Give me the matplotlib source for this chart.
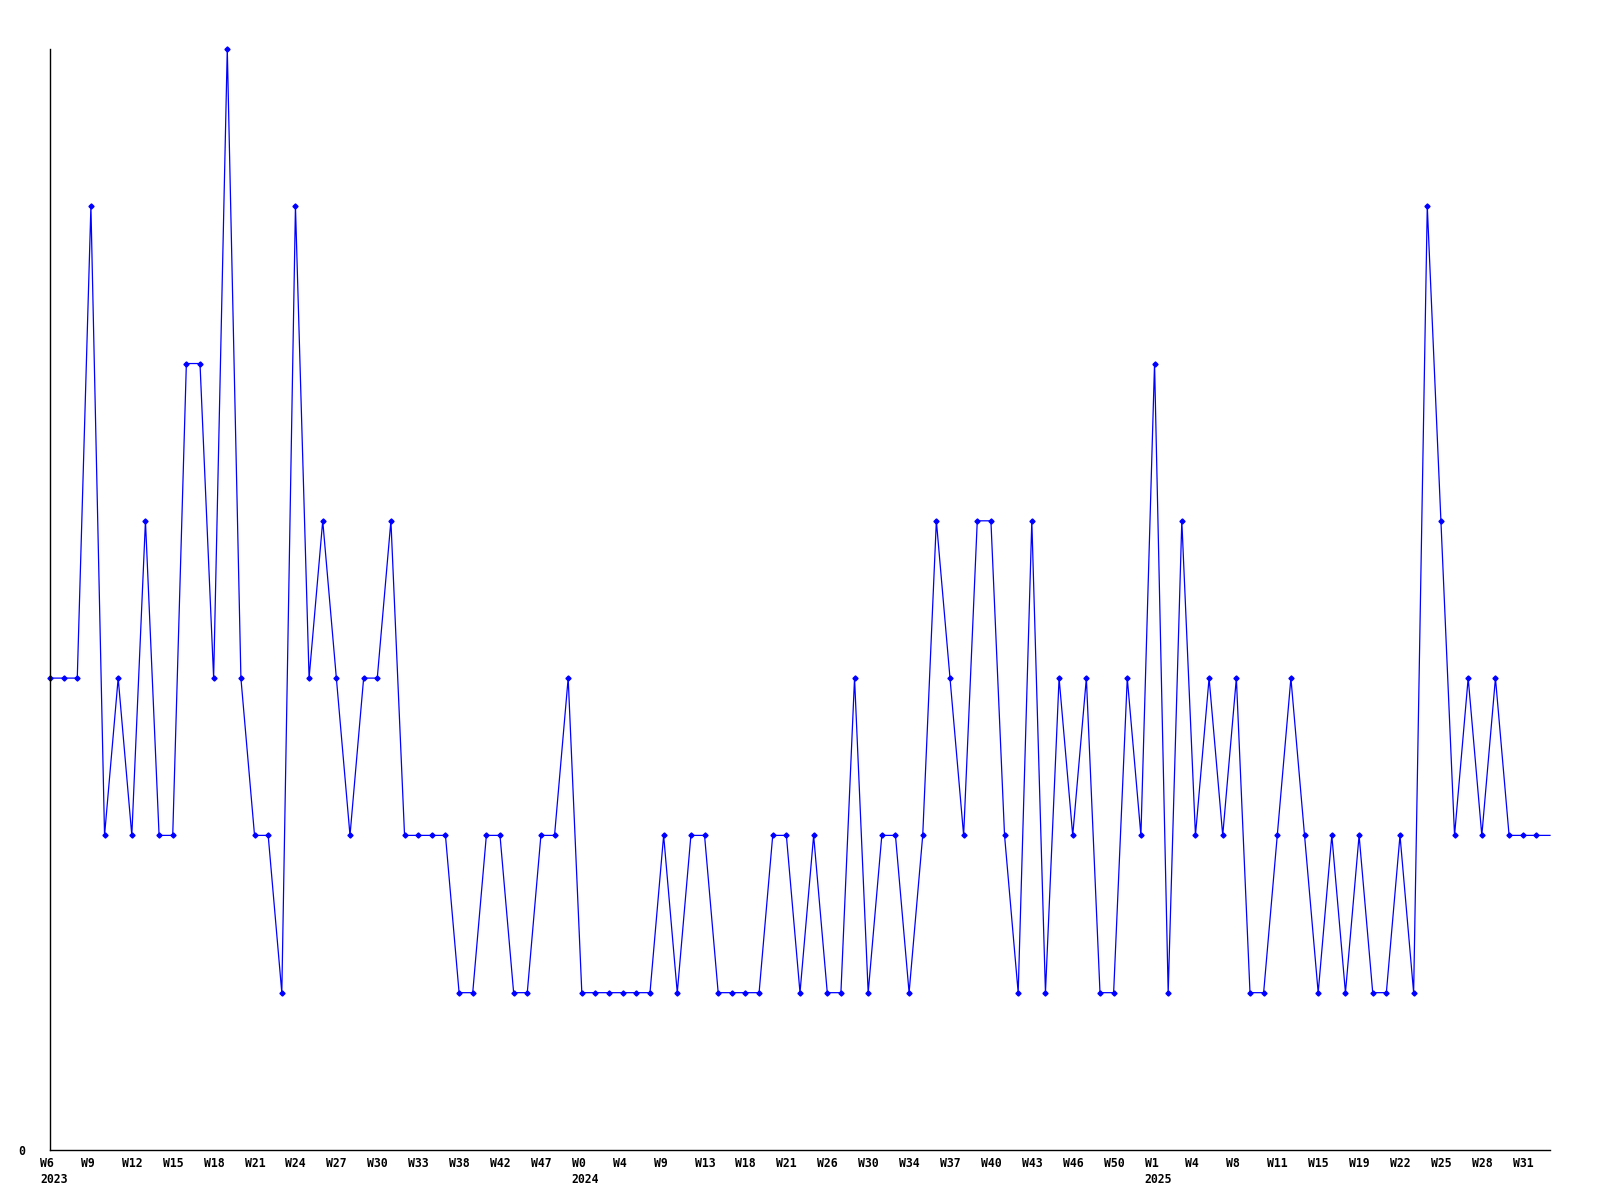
"""Weekly counts, W6 2023 .. W31 2025, as a plain line with point markers."""
import matplotlib
matplotlib.use("Agg")
import matplotlib.pyplot as plt
import matplotlib.transforms as mtrans

BLUE = "#0000ff"
INK = "#000000"

# one value per plotted week (weeks without data are skipped, so x is the index)
counts = [
    3, 3, 3, 6, 2, 3, 2, 4, 2, 2,
    5, 5, 3, 7, 3, 2, 2, 1, 6, 3,
    4, 3, 2, 3, 3, 4, 2, 2, 2, 2,
    1, 1, 2, 2, 1, 1, 2, 2, 3, 1,
    1, 1, 1, 1, 1, 2, 1, 2, 2, 1,
    1, 1, 1, 2, 2, 1, 2, 1, 1, 3,
    1, 2, 2, 1, 2, 4, 3, 2, 4, 4,
    2, 1, 4, 1, 3, 2, 3, 1, 1, 3,
    2, 5, 1, 4, 2, 3, 2, 3, 1, 1,
    2, 3, 2, 1, 2, 1, 2, 1, 1, 2,
    1, 6, 4, 2, 3, 2, 3, 2, 2, 2,
    2,
]

# labels every third point
week_labels = [
    "W6\n2023", "W9", "W12", "W15", "W18", "W21", "W24", "W27", "W30",
    "W33", "W38", "W42", "W47", "W0\n2024", "W4", "W9", "W13", "W18",
    "W21", "W26", "W30", "W34", "W37", "W40", "W43", "W46", "W50",
    "W1\n2025", "W4", "W8", "W11", "W15", "W19", "W22", "W25", "W28", "W31",
]
label_step = 3

x = list(range(len(counts)))

fig = plt.figure(figsize=(16, 12), dpi=100)
ax = fig.add_axes([0.03125, 0.0417, 0.9375, 0.9175])

ax.plot(x, counts, color=BLUE, linewidth=0.9, marker="D", markersize=2.6,
        markevery=slice(0, len(counts) - 1), clip_on=False)

ax.set_xlim(0, len(counts) - 1)
ax.set_ylim(0, max(counts))

ax.tick_params(axis="x", length=0, pad=5)
ax.tick_params(axis="y", length=0, pad=18)

ax.set_xticks(range(0, label_step * len(week_labels), label_step))
ax.set_xticklabels(week_labels, ha="left", fontfamily="DejaVu Sans Mono",
                   fontweight="bold", fontsize=8.3, linespacing=1.3)
shift = mtrans.ScaledTranslation(-10 / 100, 0, fig.dpi_scale_trans)
for lab in ax.get_xticklabels():
    lab.set_transform(lab.get_transform() + shift)

ax.set_yticks([0])
ax.set_yticklabels(["0"], fontfamily="DejaVu Sans Mono", fontweight="bold",
                   fontsize=8.3)

for s in ("top", "right"):
    ax.spines[s].set_visible(False)
for s in ("left", "bottom"):
    ax.spines[s].set_color(INK)
    ax.spines[s].set_linewidth(1.0)

fig.savefig("out.png", dpi=100, facecolor="white")
plt.close(fig)
